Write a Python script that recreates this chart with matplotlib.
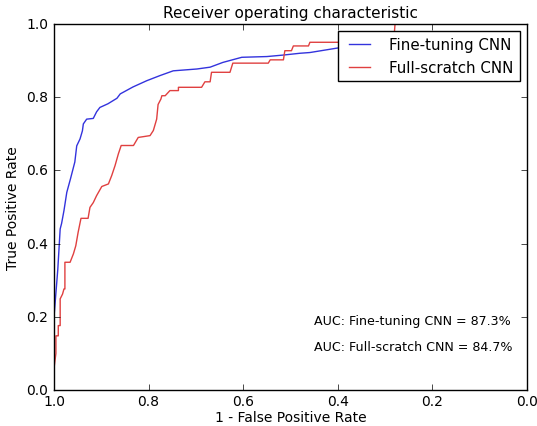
import matplotlib
matplotlib.use('Agg')
import matplotlib.pyplot as plt

# ROC curves (x = 1 - FPR, y = TPR)
ft_spec = [1.0, 1.0, 0.992, 0.987, 0.984, 0.979, 0.973, 0.965, 0.956, 0.952,
           0.945, 0.940, 0.938, 0.931, 0.917, 0.910, 0.903, 0.886, 0.867, 0.860,
           0.833, 0.804, 0.776, 0.748, 0.698, 0.670, 0.643, 0.603, 0.550, 0.516,
           0.480, 0.459, 0.402, 0.35, 0.25, 0.12, 0.03]
ft_tpr = [0.0, 0.20, 0.33, 0.44, 0.455, 0.49, 0.54, 0.578, 0.623, 0.667,
          0.686, 0.708, 0.727, 0.740, 0.742, 0.760, 0.772, 0.782, 0.797, 0.809,
          0.828, 0.845, 0.859, 0.872, 0.877, 0.882, 0.895, 0.909, 0.911, 0.915,
          0.920, 0.922, 0.934, 0.945, 0.955, 0.965, 0.97]

fs_spec = [1.0, 1.0, 0.998, 0.996, 0.996, 0.991, 0.991, 0.987, 0.987, 0.982,
           0.979, 0.977, 0.977, 0.966, 0.959, 0.954, 0.949, 0.943, 0.928, 0.924,
           0.917, 0.910, 0.899, 0.885, 0.878, 0.871, 0.864, 0.858, 0.832, 0.822,
           0.797, 0.790, 0.783, 0.780, 0.774, 0.772, 0.765, 0.755, 0.737, 0.737,
           0.688, 0.681, 0.670, 0.667, 0.628, 0.622, 0.547, 0.543, 0.515, 0.512,
           0.498, 0.494, 0.462, 0.459, 0.282, 0.279, 0.0]
fs_tpr = [0.0, 0.06, 0.08, 0.10, 0.148, 0.148, 0.176, 0.176, 0.249, 0.262,
          0.276, 0.276, 0.349, 0.349, 0.372, 0.394, 0.431, 0.469, 0.469, 0.499,
          0.512, 0.531, 0.556, 0.563, 0.586, 0.613, 0.645, 0.668, 0.668, 0.690,
          0.695, 0.709, 0.740, 0.780, 0.795, 0.804, 0.804, 0.818, 0.818, 0.827,
          0.827, 0.842, 0.842, 0.868, 0.868, 0.893, 0.893, 0.902, 0.902, 0.927,
          0.927, 0.940, 0.940, 0.950, 0.950, 1.0, 1.0]

auc_ft = 87.3
auc_fs = 84.7

plt.style.use('classic')
fig = plt.figure(figsize=(5.37, 4.27), dpi=100)
ax = fig.add_axes([0.1006, 0.0843, 0.8808, 0.8572])

ax.plot(ft_spec, ft_tpr, color='#3333dd', lw=1.0, label='Fine-tuning CNN')
ax.plot(fs_spec, fs_tpr, color='#e04040', lw=1.0, label='Full-scratch CNN')

ax.set_xlim(1.0, 0.0)
ax.set_ylim(0.0, 1.0)
ax.set_title('Receiver operating characteristic', fontsize=11)
ax.set_xlabel('1 - False Positive Rate', fontsize=10, labelpad=1)
ax.set_ylabel('True Positive Rate', fontsize=10)
ax.tick_params(labelsize=10)
ax.tick_params(axis='x', pad=3)

ax.text(0.45, 0.19, 'AUC: Fine-tuning CNN = %.1f%%' % auc_ft, fontsize=9.1, va='center')
ax.text(0.45, 0.12, 'AUC: Full-scratch CNN = %.1f%%' % auc_fs, fontsize=9.1, va='center')

ax.legend(loc='upper right', fontsize=10.8, handletextpad=1.0)

fig.patch.set_facecolor('white')
plt.savefig('out.png', dpi=100, facecolor='white')
